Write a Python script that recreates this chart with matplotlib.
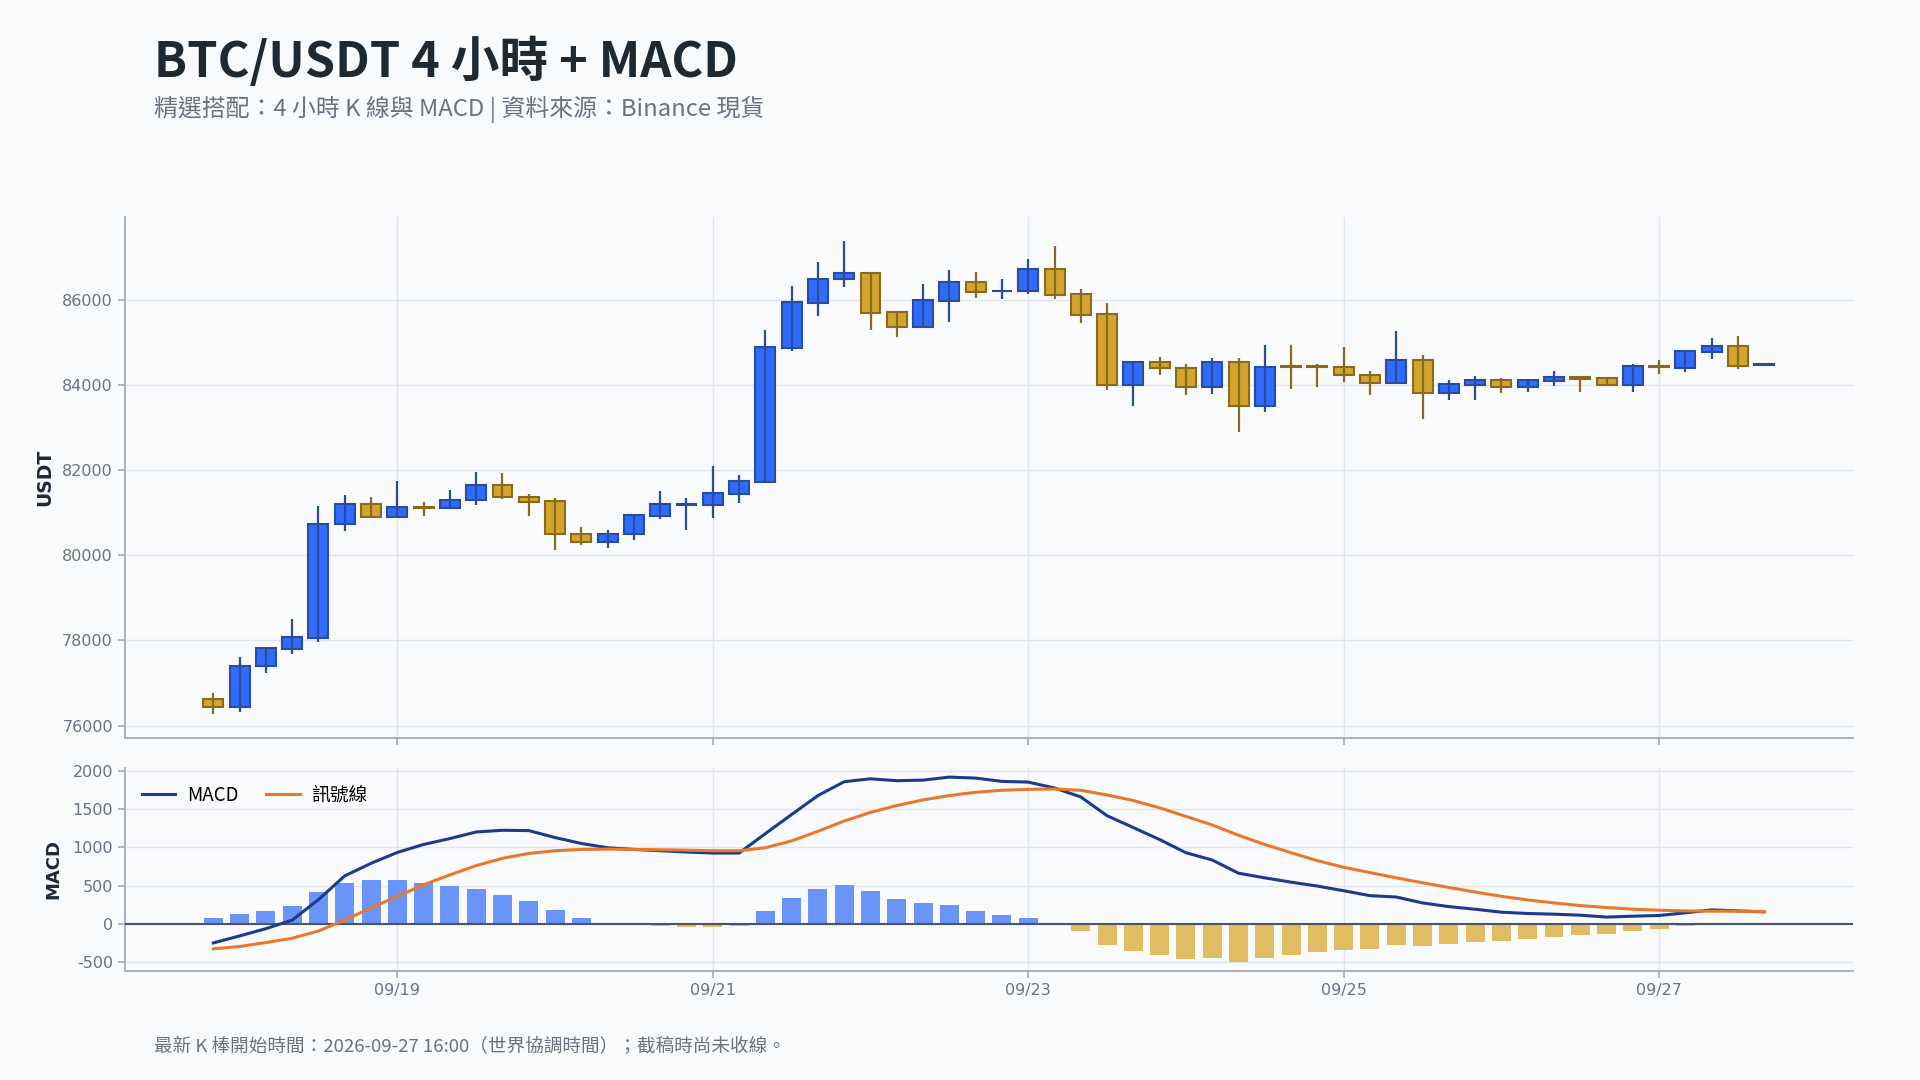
import numpy as np
import pandas as pd
import matplotlib
matplotlib.use("Agg")
import matplotlib.pyplot as plt
import matplotlib.dates as mdates

plt.rcParams['axes.unicode_minus'] = False

CJK = ['Noto Sans CJK TC', 'DejaVu Sans']

# 4h candles, first bar opens 2026-09-17 20:00 UTC
start_time = "2026-09-17 20:00"
n_bars = 60

opens = [76616, 76427, 77389, 77808, 78054, 80725, 81209, 80889, 81144, 81111,
         81292, 81661, 81374, 81267, 80511, 80314, 80503, 80922, 81185, 81177,
         81440, 81719, 84874, 85926, 86501, 86625, 85712, 85351, 85984, 86411,
         86205, 86214, 86715, 86131, 85663, 83995, 84537, 84398, 83946, 84537,
         83502, 84430, 84430, 84422, 84242, 84036, 84587, 83806, 84011, 84118,
         83946, 84102, 84184, 84159, 84011, 84440, 84406, 84784, 84915, 84470]
highs = [76756, 77619, 77849, 78506, 81160, 81415, 81366, 81744, 81250, 81530,
         81957, 81933, 81440, 81341, 80667, 80593, 80971, 81505, 81341, 82097,
         81875, 85302, 86337, 86896, 87389, 86640, 85720, 86378, 86707, 86666,
         86501, 86970, 87274, 86263, 85934, 84570, 84669, 84504, 84628, 84628,
         84948, 84932, 84504, 84882, 84340, 85260, 84693, 84110, 84200, 84159,
         84135, 84340, 84184, 84159, 84488, 84578, 84800, 85113, 85162, 84485]
lows = [76271, 76312, 77232, 77676, 77972, 80577, 80889, 80864, 80930, 81094,
        81185, 81333, 80930, 80133, 80248, 80182, 80347, 80840, 80601, 80864,
        81234, 81700, 84792, 85614, 86296, 85302, 85121, 85334, 85474, 86041,
        86016, 86131, 86016, 85449, 83880, 83510, 84233, 83765, 83790, 82902,
        83371, 83905, 83954, 84069, 83765, 84030, 83206, 83642, 83642, 83806,
        83847, 83970, 83847, 83970, 83847, 84258, 84316, 84603, 84365, 84465]
closes = [76435, 77389, 77824, 78071, 80741, 81209, 80889, 81144, 81111, 81308,
          81661, 81357, 81250, 80503, 80314, 80511, 80938, 81193, 81190, 81456,
          81735, 84891, 85942, 86501, 86625, 85696, 85351, 85992, 86411, 86189,
          86215, 86715, 86123, 85655, 83995, 84537, 84389, 83946, 84537, 83502,
          84422, 84420, 84420, 84225, 84036, 84587, 83806, 84028, 84118, 83946,
          84118, 84192, 84151, 84011, 84455, 84430, 84792, 84915, 84455, 84480]

macd = [-246, -155, -60, 52, 319, 629, 793, 935, 1039, 1116,
        1202, 1224, 1220, 1129, 1052, 996, 974, 957, 940, 927,
        927, 1180, 1430, 1677, 1858, 1896, 1871, 1879, 1918, 1905,
        1862, 1853, 1776, 1659, 1414, 1259, 1103, 931, 836, 664,
        603, 547, 496, 435, 371, 353, 276, 228, 194, 155,
        138, 129, 116, 91, 103, 112, 147, 185, 172, 159]
signal = [-323, -293, -241, -185, -90, 52, 211, 362, 513, 642,
          763, 858, 922, 957, 974, 978, 974, 970, 965, 957,
          957, 996, 1086, 1211, 1345, 1457, 1547, 1621, 1677, 1720,
          1746, 1758, 1763, 1746, 1685, 1612, 1517, 1405, 1293, 1159,
          1039, 931, 828, 741, 672, 603, 539, 478, 418, 362,
          315, 276, 241, 216, 194, 181, 172, 168, 168, 164]
hist = [73, 129, 177, 233, 414, 539, 578, 578, 539, 500,
        461, 384, 306, 190, 73, 6, -4, -22, -39, -39,
        -22, 177, 345, 461, 513, 435, 332, 280, 246, 177,
        112, 82, 5, -90, -272, -349, -401, -453, -440, -491,
        -440, -401, -362, -336, -323, -272, -284, -259, -233, -220,
        -194, -168, -142, -125, -90, -65, -26, -5, 2, -3]

times = pd.date_range(start_time, periods=n_bars, freq="4h")
x = mdates.date2num(times.to_pydatetime())

df = pd.DataFrame({"open": opens, "high": highs, "low": lows, "close": closes,
                   "macd": macd, "signal": signal, "hist": hist}, index=x)

BG = "#f8fafc"
UP_FILL, UP_EDGE = "#2f6bff", "#2a4c9c"
DN_FILL, DN_EDGE = "#d4a52d", "#8a6a1f"
GRID = "#e2e5eb"
SPINE = "#a3abb8"
TICK = "#6b7280"

fig = plt.figure(figsize=(19.2, 10.8), dpi=100, facecolor=BG)
ax = fig.add_axes([0.065, 0.317, 0.900, 0.482], facecolor=BG)
ax2 = fig.add_axes([0.065, 0.101, 0.900, 0.188], facecolor=BG, sharex=ax)

bar_w = 4 / 24 * 0.76
up = df["close"] >= df["open"]

# wicks
ax.vlines(df.index[up], df["low"][up], df["high"][up], color=UP_EDGE, lw=1.6, zorder=2)
ax.vlines(df.index[~up], df["low"][~up], df["high"][~up], color=DN_EDGE, lw=1.6, zorder=2)
# bodies
body_lo = np.minimum(df["open"], df["close"])
body_h = np.maximum((df["close"] - df["open"]).abs(), 15)
ax.bar(df.index[up], body_h[up], bottom=body_lo[up], width=bar_w,
       color=UP_FILL, edgecolor=UP_EDGE, linewidth=1.5, zorder=3)
ax.bar(df.index[~up], body_h[~up], bottom=body_lo[~up], width=bar_w,
       color=DN_FILL, edgecolor=DN_EDGE, linewidth=1.5, zorder=3)
# wick drawn through the body as in the reference
ax.vlines(df.index[up], body_lo[up], body_lo[up] + body_h[up], color=UP_EDGE, lw=1.6, zorder=4)
ax.vlines(df.index[~up], body_lo[~up], body_lo[~up] + body_h[~up], color=DN_EDGE, lw=1.6, zorder=4)

# MACD panel
hcol = np.where(df["hist"] >= 0, "#6a94f8", "#e0bd63")
ax2.bar(df.index, df["hist"], width=4 / 24 * 0.72, color=hcol, zorder=2)
ax2.axhline(0, color="#4b5563", lw=1.5, zorder=3)
ax2.plot(df.index, df["macd"], color="#1e3a8a", lw=2.2, label="MACD", zorder=4)
ax2.plot(df.index, df["signal"], color="#e8792b", lw=2.2, label="訊號線", zorder=4)
ax2.legend(loc="upper left", frameon=False, ncol=2, prop={"family": CJK, "size": 13.5},
           handlelength=1.8, handletextpad=0.6, columnspacing=1.5, borderaxespad=0.5)

for a in (ax, ax2):
    a.grid(True, color=GRID, lw=1.0)
    a.set_axisbelow(True)
    for s in ("top", "right"):
        a.spines[s].set_visible(False)
    for s in ("left", "bottom"):
        a.spines[s].set_color(SPINE)
        a.spines[s].set_linewidth(1.3)
    a.tick_params(colors=SPINE, labelcolor=TICK, labelsize=11.5, length=5, width=1.2)

ax.set_yticks([76000, 78000, 80000, 82000, 84000, 86000])
ax2.set_yticks([-500, 0, 500, 1000, 1500, 2000])
ax2.xaxis.set_major_locator(mdates.DayLocator(bymonthday=[19, 21, 23, 25, 27]))
ax2.xaxis.set_major_formatter(mdates.DateFormatter("%m/%d"))
plt.setp(ax.get_xticklabels(), visible=False)

ax.set_ylabel("USDT", fontsize=13.5, fontweight="bold", color="#1f2937")
ax2.set_ylabel("MACD", fontsize=13, fontweight="bold", color="#1f2937")
ax.yaxis.set_label_coords(-0.041, 0.5)
ax2.yaxis.set_label_coords(-0.036, 0.5)

fig.text(0.080, 0.943, "BTC/USDT 4 小時 + MACD", family=CJK, fontsize=35,
         fontweight="bold", color="#1f2933", va="center")
fig.text(0.080, 0.899, "精選搭配：4 小時 K 線與 MACD | 資料來源：Binance 現貨", family=CJK,
         fontsize=17.2, color="#6b7280", va="center")
fig.text(0.080, 0.031, "最新 K 棒開始時間：2026-09-27 16:00（世界協調時間）；截稿時尚未收線。",
         family=CJK, fontsize=13.4, color="#6b7280", va="center")

fig.savefig("out.png", dpi=100, facecolor=BG)
